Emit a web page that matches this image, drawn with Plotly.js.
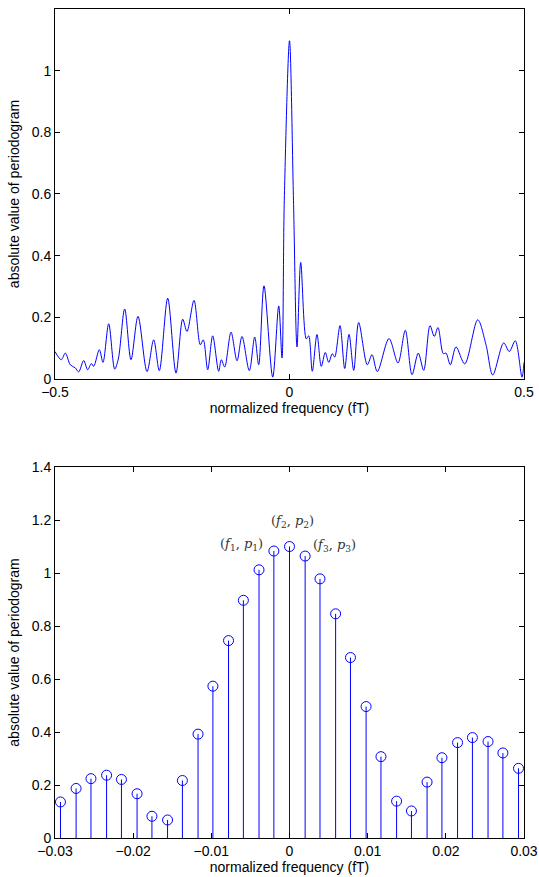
<!DOCTYPE html>
<html>
<head>
<meta charset="utf-8">
<script src="https://cdn.plot.ly/plotly-3.0.1.min.js"></script>
<style>
  html, body { margin: 0; padding: 0; background: #fff; }
  #chart { width: 539px; height: 877px; }
</style>
</head>
<body>
<div id="chart"></div>
<script>
// ---- Top panel: periodogram magnitude over the full normalized band ----
const topFreq = [
  -0.5, -0.4866, -0.478, -0.4674, -0.4567, -0.4495, -0.4388, -0.4303, -0.4226, -0.4175,
  -0.4055, -0.3977, -0.3855, -0.3727, -0.365, -0.3514, -0.338, -0.323, -0.3038, -0.2896,
  -0.2776, -0.2597, -0.242, -0.2277, -0.2186, -0.2036, -0.1902, -0.1838, -0.1744, -0.1638,
  -0.151, -0.1454, -0.1382, -0.1247, -0.1119, -0.1013, -0.0857, -0.0742, -0.0657, -0.0544,
  -0.0358, -0.023, -0.016, -0.0111, 0, 0.0085, 0.016, 0.0239, 0.0358, 0.0409,
  0.0486, 0.0586, 0.0678, 0.0763, 0.0836, 0.0913, 0.0964, 0.1077, 0.1177, 0.1269,
  0.1369, 0.1475, 0.1659, 0.1759, 0.1872, 0.2122, 0.2313, 0.2469, 0.2612, 0.2746,
  0.2861, 0.2996, 0.3087, 0.3166, 0.3279, 0.3337, 0.3429, 0.355, 0.3736, 0.4013,
  0.419, 0.4333, 0.4567, 0.4686, 0.4814, 0.4957, 0.5
];
const topPower = [
  0.089, 0.0625, 0.084, 0.046, 0.036, 0.023, 0.060, 0.030, 0.050, 0.041,
  0.095, 0.054, 0.179, 0.032, 0.065, 0.227, 0.0625, 0.203, 0.024, 0.127,
  0.027, 0.262, 0.019, 0.194, 0.154, 0.255, 0.111, 0.127, 0.030, 0.140,
  0.025, 0.0625, 0.039, 0.152, 0.059, 0.138, 0.027, 0.136, 0.046, 0.302,
  0.006, 0.237, 0.068, 0.58, 1.097, 0.58, 0.104, 0.378, 0.130, 0.140,
  0.025, 0.144, 0.041, 0.086, 0.054, 0.082, 0.071, 0.173, 0.034, 0.145,
  0.028, 0.183, 0.046, 0.079, 0.024, 0.131, 0.052, 0.158, 0.014, 0.084,
  0.028, 0.173, 0.138, 0.167, 0.082, 0.084, 0.046, 0.104, 0.049, 0.192,
  0.111, 0.013, 0.117, 0.089, 0.124, 0.006, 0.054
];

// ---- Bottom panel: zoomed DFT samples (stem plot) ----
const stemFreq = [
  -0.0293, -0.0273, -0.0254, -0.0234, -0.0215, -0.0195, -0.0176, -0.0156, -0.0137, -0.0117,
  -0.0098, -0.0078, -0.0059, -0.0039, -0.0020, 0, 0.0020, 0.0039, 0.0059, 0.0078,
  0.0098, 0.0117, 0.0137, 0.0156, 0.0176, 0.0195, 0.0215, 0.0234, 0.0254, 0.0273, 0.0293
];
const stemPower = [
  0.136, 0.187, 0.224, 0.237, 0.221, 0.167, 0.082, 0.068, 0.217, 0.392,
  0.573, 0.745, 0.897, 1.012, 1.083, 1.100, 1.064, 0.978, 0.846, 0.681,
  0.496, 0.307, 0.139, 0.102, 0.211, 0.303, 0.360, 0.379, 0.364, 0.321, 0.263
];

// ---- Tick labels ----
const topXTicks = [-0.5, 0, 0.5];
const topXLabels = ["\u22120.5", "0", "0.5"];
const topYTicks = [0, 0.2, 0.4, 0.6, 0.8, 1];
const topYLabels = ["0", "0.2", "0.4", "0.6", "0.8", "1"];
const botXTicks = [-0.03, -0.02, -0.01, 0, 0.01, 0.02, 0.03];
const botXLabels = ["\u22120.03", "\u22120.02", "\u22120.01", "0", "0.01", "0.02", "0.03"];
const botYTicks = [0, 0.2, 0.4, 0.6, 0.8, 1, 1.2, 1.4];
const botYLabels = ["0", "0.2", "0.4", "0.6", "0.8", "1", "1.2", "1.4"];

// Annotation labels for the three largest samples
const peakLabels = [
  {text: "(<i>f</i><sub>1</sub>, <i>p</i><sub>1</sub>)", x: -0.0061, y: 1.108},
  {text: "(<i>f</i><sub>2</sub>, <i>p</i><sub>2</sub>)", x: 0.0004, y: 1.196},
  {text: "(<i>f</i><sub>3</sub>, <i>p</i><sub>3</sub>)", x: 0.0057, y: 1.104}
];

const BLUE = "#0000ff";

// build stem segments from the data arrays
const stemX = [], stemY = [];
stemFreq.forEach((f, i) => { stemX.push(f, f, null); stemY.push(0, stemPower[i], null); });

const traces = [
  {x: topFreq, y: topPower, type: "scatter", mode: "lines",
   line: {color: BLUE, width: 1, shape: "spline", smoothing: 0.9},
   xaxis: "x", yaxis: "y", hoverinfo: "skip"},
  {x: stemX, y: stemY, type: "scatter", mode: "lines",
   line: {color: BLUE, width: 1}, xaxis: "x2", yaxis: "y2", hoverinfo: "skip"},
  {x: stemFreq, y: stemPower, type: "scatter", mode: "markers",
   marker: {symbol: "circle-open", size: 10, color: BLUE, line: {width: 1, color: BLUE}},
   xaxis: "x2", yaxis: "y2", hoverinfo: "skip"}
];

const FONT = "Liberation Sans, Arial, Helvetica, sans-serif";
const FS = 14;
const common = {
  showline: true, linecolor: "#000", linewidth: 1, mirror: "allticks",
  ticks: "inside", ticklen: 5, tickwidth: 1, tickcolor: "#000",
  showgrid: false, zeroline: false, automargin: false,
  tickfont: {family: FONT, size: FS, color: "#000"}
};

const layout = {
  width: 539, height: 877,
  margin: {l: 55, r: 15, t: 9, b: 39},
  paper_bgcolor: "#fff", plot_bgcolor: "#fff",
  showlegend: false,
  font: {family: FONT, size: FS, color: "#000"},
  xaxis: Object.assign({}, common, {
    anchor: "y", range: [-0.5, 0.5], tickvals: topXTicks, ticktext: topXLabels,
    title: {text: "normalized frequency (fT)", font: {family: FONT, size: FS}, standoff: 2}
  }),
  yaxis: Object.assign({}, common, {
    anchor: "x", domain: [0.5537, 1], range: [0, 1.2], tickvals: topYTicks, ticktext: topYLabels,
    title: {text: "absolute value of periodogram", font: {family: FONT, size: FS}, standoff: 8}
  }),
  xaxis2: Object.assign({}, common, {
    anchor: "y2", range: [-0.03, 0.03], tickvals: botXTicks, ticktext: botXLabels,
    title: {text: "normalized frequency (fT)", font: {family: FONT, size: FS}, standoff: 2}
  }),
  yaxis2: Object.assign({}, common, {
    anchor: "x2", domain: [0, 0.4475], range: [0, 1.4], tickvals: botYTicks, ticktext: botYLabels,
    title: {text: "absolute value of periodogram", font: {family: FONT, size: FS}, standoff: 8}
  }),
  annotations: peakLabels.map(p => ({
    x: p.x, y: p.y, xref: "x2", yref: "y2", text: p.text, showarrow: false,
    font: {family: "DejaVu Serif, Liberation Serif, serif", size: 13, color: "#333"}
  }))
};

Plotly.newPlot("chart", traces, layout, {staticPlot: true, displayModeBar: false});
</script>
</body>
</html>
